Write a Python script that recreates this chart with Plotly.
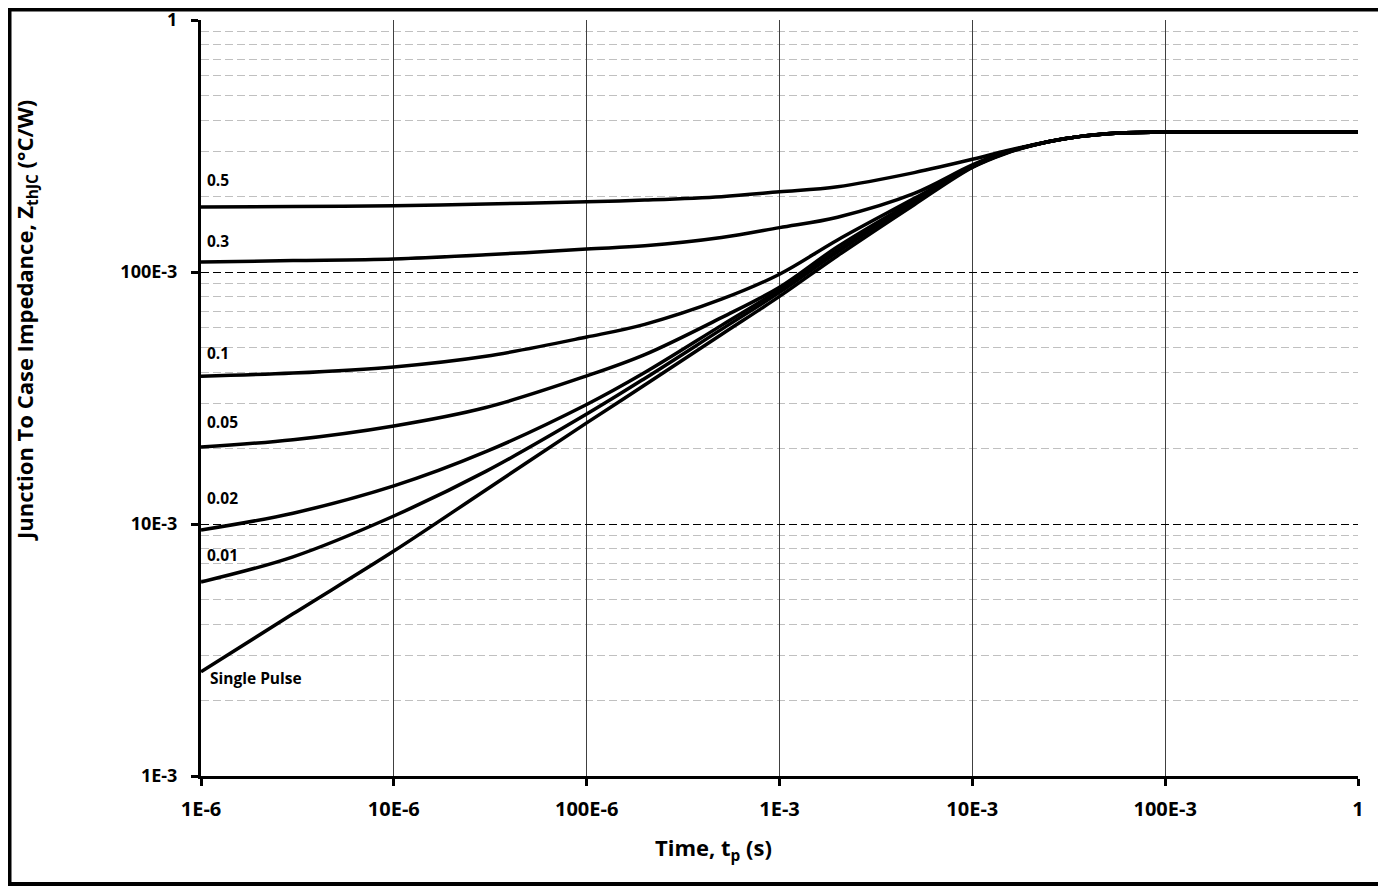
import math
import plotly.graph_objects as go

# Time points (s)
time_s = [1e-6, 3e-6, 1e-5, 3e-5, 1e-4, 2e-4, 5e-4, 1e-3, 2e-3, 5e-3, 1e-2, 1.5e-2, 2e-2, 3e-2, 5e-2, 1e-1, 3e-1, 1.0]

# Thermal impedance Zth (degC/W) for each duty cycle
z_d05 = [0.181, 0.182, 0.183, 0.186, 0.190, 0.193, 0.199, 0.208, 0.218, 0.248, 0.280, 0.303, 0.318, 0.338, 0.354, 0.359, 0.360, 0.360]
z_d03 = [0.1096, 0.111, 0.1127, 0.117, 0.1234, 0.127, 0.137, 0.150, 0.165, 0.205, 0.266, 0.300, 0.317, 0.338, 0.354, 0.359, 0.360, 0.360]
z_d01 = [0.0386, 0.0397, 0.042, 0.0463, 0.0552, 0.062, 0.078, 0.098, 0.134, 0.196, 0.262, 0.299, 0.317, 0.338, 0.354, 0.359, 0.360, 0.360]
z_d005 = [0.0202, 0.0216, 0.0245, 0.029, 0.0387, 0.047, 0.0659, 0.087, 0.126, 0.192, 0.262, 0.298, 0.317, 0.338, 0.354, 0.359, 0.360, 0.360]
z_d002 = [0.00947, 0.01104, 0.01416, 0.01936, 0.0298, 0.0399, 0.0614, 0.085, 0.122, 0.190, 0.262, 0.298, 0.317, 0.338, 0.354, 0.359, 0.360, 0.360]
z_d001 = [0.00589, 0.00741, 0.01076, 0.01617, 0.0273, 0.0378, 0.0592, 0.083, 0.120, 0.189, 0.261, 0.297, 0.317, 0.338, 0.354, 0.359, 0.360, 0.360]
z_single = [0.00259, 0.0044, 0.00781, 0.01365, 0.0252, 0.0356, 0.0565, 0.080, 0.116, 0.185, 0.260, 0.296, 0.316, 0.338, 0.354, 0.359, 0.360, 0.360]

series_names = ["0.5", "0.3", "0.1", "0.05", "0.02", "0.01", "Single Pulse"]
series_values = [z_d05, z_d03, z_d01, z_d005, z_d002, z_d001, z_single]
label_y = [0.232, 0.133, 0.0477, 0.0254, 0.01268, 0.00753, 0.00245]

x_tickvals = [1e-6, 1e-5, 1e-4, 1e-3, 1e-2, 1e-1, 1]
x_ticktext = ["1E-6", "10E-6", "100E-6", "1E-3", "10E-3", "100E-3", "1"]
y_tickvals = [1e-3, 1e-2, 1e-1, 1]
y_ticktext = ["1E-3", "10E-3", "100E-3", "1"]

FONT = "Open Sans"
OFF = 8  # default body margin of the html page
W, H = 1386 - OFF, 887 - OFF
L, T = 201 - OFF, 20 - OFF
R = W - (1358 - OFF)
B = H - (776 - OFF)
pw = W - L - R
ph = H - T - B


def px_x(sx):
    return (sx - OFF - L) / pw


def px_y(sy):
    return (H - (sy - OFF) - B) / ph


fig = go.Figure()
for name, z in zip(series_names, series_values):
    fig.add_trace(go.Scatter(
        x=time_s, y=z, mode="lines", name=name,
        line=dict(color="black", width=3.5, shape="spline", smoothing=1.0),
        showlegend=False, hoverinfo="skip"))

annotations = []
for name, ylab in zip(series_names, label_y):
    annotations.append(dict(
        x=-5.978 if name != "Single Pulse" else -5.962, y=math.log10(ylab),
        xref="x", yref="y", text="<b>%s</b>" % name, showarrow=False,
        xanchor="left", yanchor="middle", font=dict(family=FONT, size=15.5, color="black")))

annotations.append(dict(
    x=px_x(713), y=px_y(849), xref="paper", yref="paper",
    text="<b>Time, t<sub>p</sub> (s)</b>", showarrow=False,
    xanchor="center", yanchor="middle", font=dict(family=FONT, size=22, color="black")))
annotations.append(dict(
    x=px_x(26), y=px_y(321), xref="paper", yref="paper",
    text="<b>Junction To Case Impedance, Z<sub>thJC</sub> (°C/W)</b>", showarrow=False,
    textangle=-90, xanchor="center", yanchor="middle", font=dict(family=FONT, size=22, color="black")))

fig.update_layout(
    width=W, height=H,
    margin=dict(l=L, r=R, t=T, b=B, autoexpand=False),
    paper_bgcolor="white", plot_bgcolor="white",
    annotations=annotations,
    shapes=[dict(type="rect", xref="paper", yref="paper",
                 x0=px_x(OFF + 1.5), x1=px_x(1383),
                 y0=px_y(884), y1=px_y(OFF + 1.5),
                 line=dict(color="black", width=4), layer="below")],
)

fig.update_xaxes(
    type="log", range=[-6, 0], automargin=False,
    tickvals=x_tickvals, ticktext=["<b>%s</b>" % t for t in x_ticktext],
    tickfont=dict(family=FONT, size=20, color="black"),
    ticks="outside", ticklen=7, tickwidth=3, tickcolor="black",
    ticklabelstandoff=6,
    showline=True, linecolor="black", linewidth=3,
    showgrid=True, gridcolor="#404040", gridwidth=1,
    zeroline=False, ticklabeloverflow="allow",
)
fig.update_yaxes(
    type="log", range=[-3, 0], automargin=False,
    tickvals=y_tickvals, ticktext=["<b>%s</b>" % t for t in y_ticktext],
    tickfont=dict(family=FONT, size=18, color="black"),
    ticks="outside", ticklen=7, tickwidth=3, tickcolor="black",
    ticklabelstandoff=10,
    showline=True, linecolor="black", linewidth=3,
    showgrid=True, gridcolor="black", gridwidth=1, griddash="8px,4px",
    minor=dict(dtick="D1", showgrid=True, gridcolor="#c0c0c0", gridwidth=1, griddash="8px,4px", ticks=""),
    zeroline=False, ticklabeloverflow="allow",
)

fig.write_html("out.html")
